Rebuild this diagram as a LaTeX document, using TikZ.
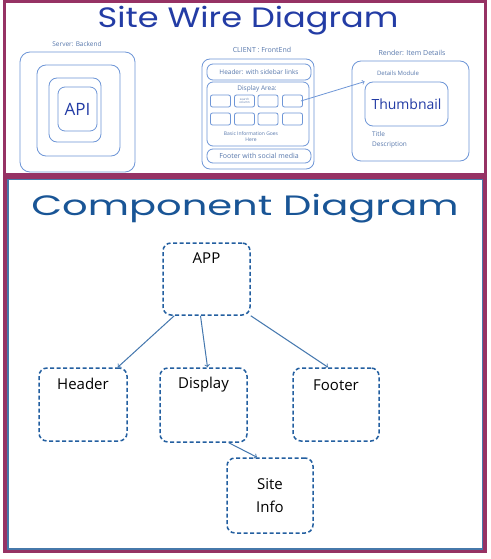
\documentclass[tikz,border=0pt]{standalone}
\usepackage{fontspec}
\setmainfont{Open Sans}
\newfontfamily\titlefont{Poppins}
\usepackage{tikz}
\definecolor{framered}{RGB}{150,50,100}
\definecolor{panelblue}{RGB}{70,120,170}
\definecolor{sketchblue}{RGB}{110,150,215}
\definecolor{inkblue}{RGB}{35,60,165}
\definecolor{deepblue}{RGB}{25,85,150}
\definecolor{dashblue}{RGB}{35,95,160}
\begin{document}
\begin{tikzpicture} % one pt per pixel, y grows downwards like the screenshot
    [x=1pt, y=-1pt,
      sketch/.style={draw=sketchblue, line width=0.8pt, rounded corners=6pt, inner sep=0pt},
      cell/.style={sketch, rounded corners=2pt, minimum width=20pt, minimum height=12pt},
      tiny/.style={text=sketchblue!80!black, font=\fontsize{6.5}{7.5}\selectfont, inner sep=0pt},
      ink/.style={text=inkblue, inner sep=0pt},
      comp/.style={draw=dashblue, line width=1.5pt, dash pattern=on 4pt off 2.5pt,
        rounded corners=8pt, inner sep=0pt, font=\fontsize{15}{23}\selectfont, align=center},
      link/.style={draw=dashblue!85!white, line width=1pt, ->}]
    \useasboundingbox (0,0) rectangle (490,559);
    \fill[white] (0,0) rectangle (490,559);
    % the two frames
    \draw[framered, line width=2.7pt] (4.3,1.3) rectangle (485.5,174.5);
    \draw[framered, line width=4pt] (5,178) rectangle (485,551);
    \draw[panelblue, line width=1.5pt] (8,179.5) rectangle (482.5,549);

    % site wire diagram
    \node[ink, anchor=base] (wiretitle) at (248,28)
      {\scalebox{1.2}[1]{\titlefont\fontsize{28}{30}\selectfont Site Wire Diagram}};

    \node[tiny] (srvlabel) at (77,44) {Server: Backend};
    \node[sketch, rounded corners=10pt, minimum width=115pt, minimum height=120pt] (srv1) at (77.5,112) {};
    \node[sketch, rounded corners=9pt, minimum width=83pt, minimum height=91pt] (srv2) at (78.5,110.5) {};
    \node[sketch, rounded corners=8pt, minimum width=52pt, minimum height=64pt] (srv3) at (75,110) {};
    \node[sketch, rounded corners=7pt, minimum width=39pt, minimum height=44pt,
      text=inkblue, font=\fontsize{17}{17}\selectfont] (api) at (77.5,109) {API};

    \node[tiny, font=\fontsize{7}{8}\selectfont] (cltlabel) at (262,50) {CLIENT : FrontEnd};
    \node[sketch, rounded corners=8pt, minimum width=112pt, minimum height=110pt] (client) at (258,114) {};
    \node[sketch, minimum width=104pt, minimum height=16pt, tiny] (header) at (259,72) {Header: with sidebar links};
    \node[sketch, minimum width=102pt, minimum height=64pt] (display) at (258,114) {};
    \node[tiny] (displabel) at (257,89) {Display Area:};
    \foreach \col/\cx in {1/220.5, 2/244.5, 3/268, 4/292.5}{
      \node[cell] (c1\col) at (\cx,101) {};
      \node[cell] (c2\col) at (\cx,119) {};
    }
    \node[tiny, align=center, font=\fontsize{3}{3.5}\selectfont] (searchtxt) at (c12) {search\\column};
    \node[tiny, align=center, font=\fontsize{5}{6}\selectfont] (basictxt) at (251,137) {Basic Information Goes\\Here};
    \node[sketch, minimum width=104pt, minimum height=14pt, tiny, font=\fontsize{7}{8}\selectfont] (footer) at (259,156) {Footer with social media};

    \node[tiny, font=\fontsize{7}{8}\selectfont] (rndlabel) at (412,53) {Render: Item Details};
    \node[sketch, rounded corners=9pt, minimum width=117pt, minimum height=100pt] (render) at (410.5,111) {};
    \node[tiny, font=\fontsize{6}{7}\selectfont] (modlabel) at (398,73) {Details Module};
    \node[sketch, rounded corners=8pt, minimum width=83pt, minimum height=44pt,
      text=inkblue, font=\fontsize{14}{14}\selectfont] (thumb) at (406.5,104) {Thumbnail};
    \node[tiny, anchor=west] (titletxt) at (372,134) {Title};
    \node[tiny, anchor=west] (desctxt) at (372,145) {Description};
    \draw[sketchblue, line width=0.8pt, ->] ([xshift=-2pt]c14.east) -- (thumb.north west);

    % component diagram
    \node[text=deepblue, anchor=base, inner sep=0pt] (comptitle) at (245,215)
      {\scalebox{1.43}[1]{\titlefont\fontsize{28}{30}\selectfont Component Diagram}};

    \node[comp, minimum width=87pt, minimum height=72pt,
      label={[below, yshift=-7pt, font=\fontsize{15}{18}\selectfont]north:APP}] (app) at (206.5,279) {};
    \node[comp, minimum width=88pt, minimum height=73pt,
      label={[below, yshift=-7pt, font=\fontsize{15}{18}\selectfont]north:Header}] (hdr) at (83,404.5) {};
    \node[comp, minimum width=87pt, minimum height=74pt,
      label={[below, yshift=-6pt, font=\fontsize{15}{18}\selectfont]north:Display}] (disp) at (203.5,405) {};
    \node[comp, minimum width=86pt, minimum height=73pt,
      label={[below, yshift=-9pt, font=\fontsize{15}{18}\selectfont]north:Footer}] (ftr) at (336,404.5) {};
    \node[comp, minimum width=86pt, minimum height=75pt] (site) at (270,495.5) {Site\\Info};

    \draw[link] ([xshift=12pt]app.south west) -- ([xshift=-10pt]hdr.north east);
    \draw[link] ([xshift=-6pt]app.south) -- ([xshift=4pt]disp.north);
    \draw[link] (app.south east) -- ([xshift=-8pt]ftr.north);
    \draw[link] ([xshift=-19pt]disp.south east) -- ([xshift=-13pt]site.north);
\end{tikzpicture}
\end{document}
